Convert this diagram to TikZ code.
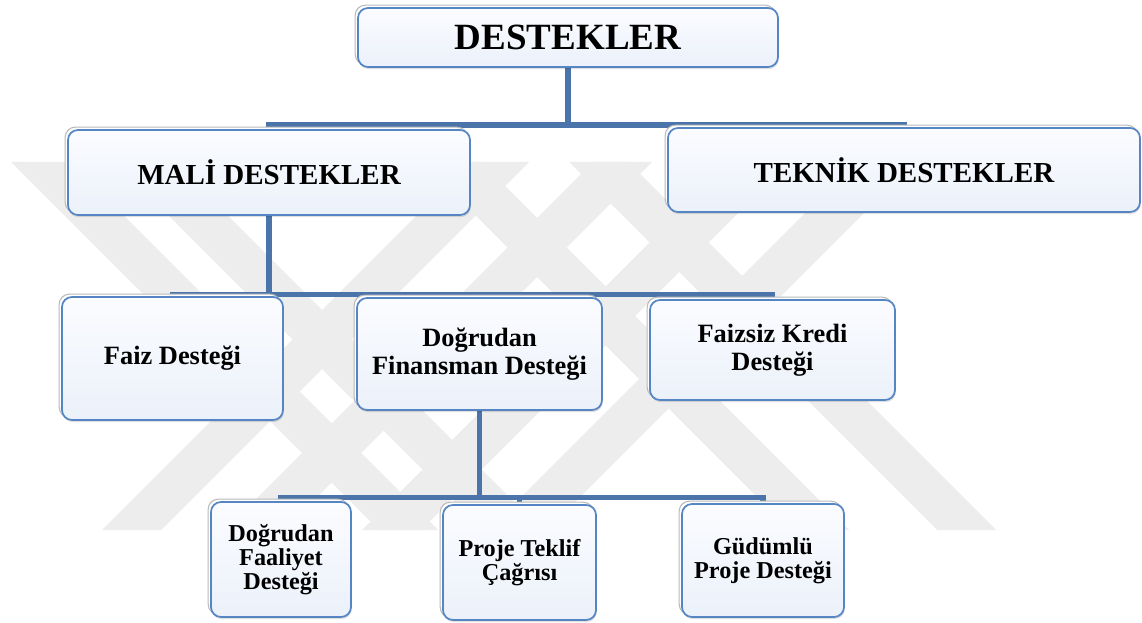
\documentclass[tikz,border=0pt]{standalone}
\usepackage{fontspec}
\setmainfont{Liberation Serif}
\usetikzlibrary{shadows,backgrounds}

\definecolor{wm}{HTML}{EDEDED}
\definecolor{connblue}{HTML}{4A74AA}
\definecolor{boxline}{HTML}{5585C3}
\definecolor{boxtop}{HTML}{FBFCFF}
\definecolor{boxbot}{HTML}{EBF1FA}

\tikzset{
  orgbox/.style={
    draw=boxline, line width=1.3pt, rounded corners=7.5pt,
    top color=boxtop, bottom color=boxbot,
    align=center, inner sep=0pt, font=\bfseries,
    general shadow={shadow xshift=0.6pt, shadow yshift=-1.6pt, fill=black, opacity=0.12},
    general shadow={shadow xshift=-2.1pt, shadow yshift=2.1pt, draw=gray!55, line width=0.8pt, fill=white}
  },
  lvlone/.style={orgbox, font=\bfseries\fontsize{27.75pt}{30pt}\selectfont},
  lvltwo/.style={orgbox, font=\bfseries\fontsize{21.75pt}{24pt}\selectfont},
  lvlthree/.style={orgbox, font=\bfseries\fontsize{19.8pt}{20.8pt}\selectfont},
  lvlfour/.style={orgbox, font=\bfseries\fontsize{18.2pt}{18pt}\selectfont},
  link/.style={draw=connblue, line width=4.4pt, line cap=butt, line join=miter},
  band/.style={fill=wm, draw=none},
  % a diagonal stripe: #1 = left x at the top edge, #2 = horizontal run to the bottom edge
  stripe/.style 2 args={insert path={(#1,162) -- ++(59,0) -- ++(#2,368) -- ++(-59,0) -- cycle}}
}

\begin{document}
\begin{tikzpicture}[x=0.75pt, y=-0.75pt]
\useasboundingbox (0,0) rectangle (1142,623);

\begin{scope}[on background layer]
\fill[white] (0,0) rectangle (1142,623);
% faint background mark made of crossing diagonal stripes
\fill[band, stripe={11}{368}];
\fill[band, stripe={115}{368}];
\fill[band, stripe={422}{368}];
\fill[band, stripe={569}{368}];
\fill[band, stripe={470}{-368}];
\fill[band, stripe={593}{-368}];
\fill[band, stripe={730}{-368}];
\fill[band, stripe={856}{-368}];
\end{scope}

% boxes
\node[lvlone, minimum width=315pt, minimum height=44.25pt] (top) at (568,37.5) {DESTEKLER};

\node[lvltwo, minimum width=301.5pt, minimum height=63.75pt] (mali) at (269,172.5) {MALİ DESTEKLER};
\node[lvltwo, minimum width=354pt, minimum height=63pt] (teknik) at (904,170) {TEKNİK DESTEKLER};

\node[lvlthree, minimum width=165.75pt, minimum height=92.25pt] (faiz) at (172.5,358.5) {Faiz Desteği};
\node[lvlthree, minimum width=183.75pt, minimum height=84pt] (dfin) at (479.5,354) {Doğrudan\\Finansman Desteği};
\node[lvlthree, minimum width=183.75pt, minimum height=75pt] (fkredi) at (772.5,350) {Faizsiz Kredi\\Desteği};

\node[lvlfour, minimum width=105pt, minimum height=86.25pt] (dfaal) at (281,559.5) {Doğrudan\\Faaliyet\\Desteği};
\node[lvlfour, minimum width=114.75pt, minimum height=86.25pt] (proje) at (519.5,562.5) {Proje Teklif\\Çağrısı};
\node[lvlfour, minimum width=121.5pt, minimum height=84.75pt] (gudum) at (763,560.5) {Güdümlü\\Proje Desteği};

% bus levels of the connectors
\coordinate (busA) at (0,125);
\coordinate (busB) at (0,294.5);
\coordinate (busC) at (0,497.5);

% connectors, kept beneath the boxes
\begin{scope}[on background layer]
\draw[link] (top.south) -- (top.south |- busA) -| (mali.north);
\draw[link] (top.south |- busA) -| (teknik.north);

\draw[link] (mali.south) -- (mali.south |- busB) -| (faiz.north);
\draw[link] (mali.south |- busB) -| (dfin.north);
\draw[link] (mali.south |- busB) -| (fkredi.north);

\draw[link] (dfin.south) -- (dfin.south |- busC) -| (dfaal.north);
\draw[link] (dfin.south |- busC) -| (proje.north);
\draw[link] (dfin.south |- busC) -| (gudum.north);
\end{scope}
\end{tikzpicture}
\end{document}
